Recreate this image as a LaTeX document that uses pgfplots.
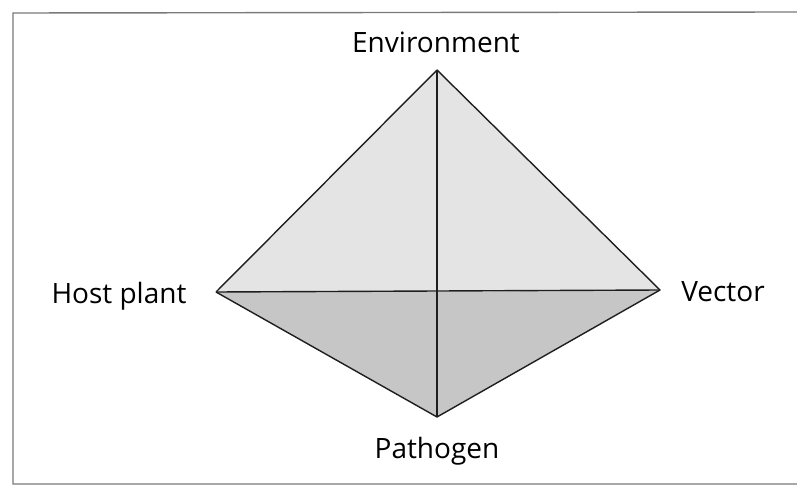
\documentclass[border=0pt]{standalone}
\usepackage{pgfplots}
\pgfplotsset{compat=1.18}
\usepackage{fontspec}
\setmainfont{Open Sans}
\definecolor{upper}{HTML}{E4E4E4}
\definecolor{lower}{HTML}{C6C6C6}
\definecolor{edge}{HTML}{1E1E1E}
\definecolor{frame}{HTML}{7A7A7A}
\begin{document}
\begin{tikzpicture}
\begin{axis}[
  scale only axis, width=797pt, height=486pt,
  xmin=0, xmax=797, ymin=0, ymax=486, y dir=reverse,
  hide axis, clip=false,
]
\path[use as bounding box] (rel axis cs:0,0) rectangle (rel axis cs:1,1);
% frame
\addplot[frame, line width=1.4pt] coordinates {(797,12) (13,13) (13,484) (797,484)};
% upper faces
\addplot[fill=upper, draw=none] coordinates {(216,292) (437,70) (660,290) (437,292)} -- cycle;
% lower faces
\addplot[fill=lower, draw=none] coordinates {(216,292) (437,292) (660,290) (437,417)} -- cycle;
% edges
\addplot[edge, line width=1.4pt, line join=round] coordinates {(216,292) (437,70) (660,290) (437,417) (216,292)};
\addplot[edge, line width=1.4pt] coordinates {(216,292) (660,290)};
\addplot[edge, line width=1.1pt] coordinates {(437,70) (437,417)};
% labels
\node[anchor=base, font=\fontsize{28}{33}\selectfont] at (axis cs:436,53) {Environment};
\node[anchor=base, font=\fontsize{28}{33}\selectfont] at (axis cs:119,303) {Host plant};
\node[anchor=base, font=\fontsize{28}{33}\selectfont] at (axis cs:723,301) {Vector};
\node[anchor=base, font=\fontsize{28}{33}\selectfont] at (axis cs:437,458) {Pathogen};
\end{axis}
\end{tikzpicture}
\end{document}
